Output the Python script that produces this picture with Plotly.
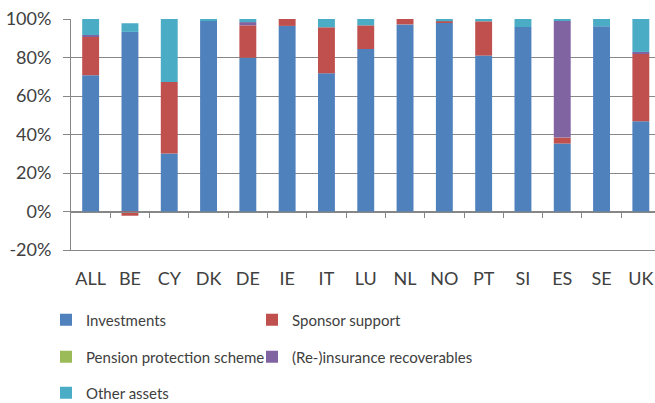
import plotly.graph_objects as go

countries = ["ALL", "BE", "CY", "DK", "DE", "IE", "IT", "LU", "NL", "NO", "PT", "SI", "ES", "SE", "UK"]
investments = [70.8, 93.3, 30.1, 99.1, 79.9, 96.4, 71.8, 84.4, 97.2, 98.1, 81.0, 95.8, 35.3, 96.2, 46.9]
sponsor_support = [20.0, -2.2, 37.2, 0.0, 16.8, 3.6, 23.9, 12.3, 2.8, 0.7, 17.8, 0.0, 3.1, 0.0, 35.1]
pension_protection = [0.0, 0.0, 0.0, 0.0, 0.0, 0.0, 0.0, 0.0, 0.0, 0.0, 0.0, 0.0, 0.0, 0.0, 0.0]
reinsurance = [0.9, 0.0, 0.0, 0.0, 1.7, 0.0, 0.0, 0.0, 0.0, 0.0, 0.0, 0.0, 60.6, 0.0, 0.9]
other_assets = [8.3, 4.5, 32.7, 0.9, 1.6, 0.0, 4.3, 3.3, 0.0, 1.2, 1.2, 4.2, 1.0, 3.8, 17.1]
y_ticks = [-20, 0, 20, 40, 60, 80, 100]
y_labels = ["-20%", "0%", "20%", "40%", "60%", "80%", "100%"]

series = [
    ("Investments", investments, "#4F81BD"),
    ("Sponsor support", sponsor_support, "#C0504D"),
    ("Pension protection scheme", pension_protection, "#9BBB59"),
    ("(Re-)insurance recoverables", reinsurance, "#8064A2"),
    ("Other assets", other_assets, "#4BACC6"),
]
# legend grid: (column x of text start, row y centre) in pixels
legend_slots = [(86, 320), (292, 320), (86, 357), (292, 357), (86, 393)]
legend_ids = ["legend", "legend2", "legend3", "legend4", "legend5"]

FONT = "Lato"
TXT = "#404040"
GRID = "#878787"
W, H = 655, 403

fig = go.Figure()
for (name, vals, color), lid in zip(series, legend_ids):
    fig.add_trace(go.Bar(x=countries, y=vals, name=name, marker_color=color,
                         marker_line_width=0, legend=lid))

n = len(countries)
fig.add_trace(go.Scatter(x=[0], y=[0], xaxis="x2", mode="markers",
                         marker=dict(opacity=0), showlegend=False, hoverinfo="skip"))

legends = {}
for lid, (tx, ty) in zip(legend_ids, legend_slots):
    legends[lid] = dict(orientation="h", xref="container", yref="container",
                        x=(tx - 40) / W, y=1 - ty / H, yanchor="middle", xanchor="left",
                        font=dict(size=15, color=TXT, family=FONT),
                        bgcolor="rgba(0,0,0,0)", borderwidth=0)

fig.update_layout(
    width=W, height=H,
    margin=dict(l=71, r=0, t=19, b=153, autoexpand=False),
    paper_bgcolor="white", plot_bgcolor="white",
    barmode="relative", bargap=0.57,
    font=dict(family=FONT, size=18, color=TXT),
    xaxis=dict(type="category", range=[-0.5, 14.36], showgrid=False, showline=True,
               linecolor=GRID, linewidth=1,
               ticks="", zeroline=False, tickfont=dict(size=18, color=TXT),
               ticklabelstandoff=12, automargin=False),
    xaxis2=dict(overlaying="x", anchor="free", position=1/6, range=[-0.5, 14.36],
                tickvals=[i + 0.5 for i in range(n - 1)], showticklabels=False,
                ticks="outside", ticklen=5, tickcolor=GRID, showline=True,
                linecolor=GRID, linewidth=1, showgrid=False, zeroline=False,
                automargin=False),
    yaxis=dict(range=[-20, 100], tickvals=y_ticks, ticktext=y_labels,
               showgrid=True, gridcolor=GRID, gridwidth=1, zeroline=True,
               zerolinecolor=GRID, zerolinewidth=1,
               showline=True, linecolor=GRID, linewidth=1,
               ticks="outside", ticklen=7, tickcolor=GRID,
               tickfont=dict(size=18, color=TXT), ticklabelstandoff=8,
               automargin=False),
    **legends,
)

fig.write_html("out.html", config={"displayModeBar": False},
               post_script="document.body.style.margin='0';")
